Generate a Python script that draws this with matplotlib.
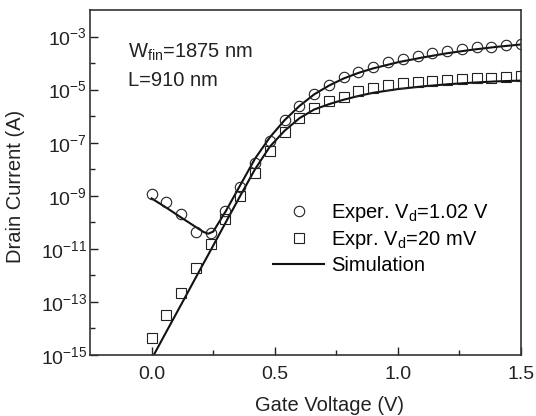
import numpy as np
import matplotlib
matplotlib.use("Agg")
import matplotlib.pyplot as plt
from matplotlib.ticker import FixedLocator, FuncFormatter, NullFormatter

plt.rcParams['font.family'] = ['Liberation Sans', 'DejaVu Sans']
plt.rcParams['mathtext.fontset'] = 'custom'
plt.rcParams['mathtext.rm'] = 'Liberation Sans'
plt.rcParams['mathtext.it'] = 'Liberation Sans'
plt.rcParams['mathtext.default'] = 'regular'

# measured points (gate voltage, log10 of drain current)
vg = [0.00, 0.06, 0.12, 0.18, 0.24, 0.30, 0.36, 0.42, 0.48, 0.54, 0.60, 0.66, 0.72,
      0.78, 0.84, 0.90, 0.96, 1.02, 1.08, 1.14, 1.20, 1.26, 1.32, 1.38, 1.44, 1.50]
log_id_hi = [-8.95, -9.23, -9.68, -10.35, -10.39, -9.58, -8.66, -7.76, -6.95, -6.16,
             -5.61, -5.15, -4.82, -4.53, -4.32, -4.13, -3.96, -3.84, -3.73, -3.62,
             -3.56, -3.47, -3.41, -3.38, -3.31, -3.27]
log_id_lo = [-14.36, -13.49, -12.65, -11.73, -10.83, -9.89, -9.00, -8.14, -7.30, -6.60,
             -6.07, -5.69, -5.44, -5.26, -5.07, -4.94, -4.84, -4.75, -4.71, -4.67,
             -4.63, -4.60, -4.58, -4.56, -4.54, -4.50]

# simulation curves
sim_v_hi = [0.0, 0.06, 0.12, 0.18, 0.21, 0.23, 0.25, 0.27, 0.30, 0.36, 0.42, 0.48, 0.54,
            0.60, 0.66, 0.72, 0.78, 0.84, 0.90, 1.0, 1.1, 1.2, 1.3, 1.4, 1.5]
sim_log_hi = [-9.1, -9.45, -9.82, -10.18, -10.36, -10.43, -10.35, -10.05, -9.6, -8.6,
              -7.6, -6.8, -6.15, -5.62, -5.18, -4.85, -4.58, -4.37, -4.2, -3.97, -3.79,
              -3.63, -3.5, -3.39, -3.3]
sim_v_lo = [0.007, 0.06, 0.12, 0.18, 0.24, 0.30, 0.36, 0.42, 0.48, 0.54, 0.60, 0.66,
            0.72, 0.78, 0.84, 0.90, 1.0, 1.1, 1.2, 1.3, 1.4, 1.5]
sim_log_lo = [-15.03, -14.12, -13.1, -12.07, -11.05, -10.02, -9.0, -8.0, -7.15, -6.55,
              -6.08, -5.75, -5.55, -5.38, -5.24, -5.12, -4.98, -4.88, -4.8, -4.74,
              -4.69, -4.66]

ink = '#222222'
fig = plt.figure(figsize=(5.36, 4.16), dpi=100)
ax = fig.add_axes([0.168, 0.1466, 0.804, 0.8294])

ax.plot(sim_v_hi, 10.0 ** np.array(sim_log_hi), color='#111111', lw=1.5)
ax.plot(sim_v_lo, 10.0 ** np.array(sim_log_lo), color='#111111', lw=1.5,
        label='Simulation')
ax.plot(vg, 10.0 ** np.array(log_id_hi), 'o', ms=7.5, mfc='none', mec=ink, mew=0.8,
        label='Exper. V$_d$=1.02 V')
ax.plot(vg, 10.0 ** np.array(log_id_lo), 's', ms=7, mfc='none', mec=ink, mew=0.8,
        label='Expr. V$_d$=20 mV')

ax.set_yscale('log')
ax.set_xlim(-0.25, 1.5)
ax.set_ylim(1e-15, 1e-2)

ax.yaxis.set_major_locator(FixedLocator([10.0 ** e for e in range(-15, -2, 2)]))
ax.yaxis.set_minor_locator(FixedLocator([10.0 ** e for e in range(-14, -2, 2)]))
ax.yaxis.set_major_formatter(FuncFormatter(
    lambda v, p: r'$10^{%d}$' % int(round(np.log10(v)))))
ax.yaxis.set_minor_formatter(NullFormatter())
ax.xaxis.set_major_locator(FixedLocator([0.0, 0.5, 1.0, 1.5]))
ax.xaxis.set_minor_locator(FixedLocator([0.25, 0.75, 1.25]))
ax.xaxis.set_major_formatter(FuncFormatter(lambda v, p: '%.1f' % v))

ax.tick_params(which='both', direction='in', colors=ink, labelsize=14)
ax.tick_params(which='major', length=6, width=1)
ax.tick_params(which='minor', length=3.5, width=1)
ax.tick_params(axis='x', pad=8)
ax.tick_params(axis='y', pad=2)
for s in ax.spines.values():
    s.set_color('#333333')
    s.set_linewidth(1.2)

ax.set_xlabel('Gate Voltage (V)', fontsize=14.5, color=ink)
ax.xaxis.set_label_coords(0.555, -0.12)
ax.set_ylabel('Drain Current (A)', fontsize=14.5, color=ink)
ax.yaxis.set_label_coords(-0.15, 0.49)

ax.text(0.088, 0.878, 'W$_{fin}$=1875 nm', transform=ax.transAxes, fontsize=14.5,
        color=ink, va='center')
ax.text(0.088, 0.797, 'L=910 nm', transform=ax.transAxes, fontsize=14.5,
        color=ink, va='center')

h, l = ax.get_legend_handles_labels()
ax.legend([h[1], h[2], h[0]], [l[1], l[2], l[0]], frameon=False, fontsize=14.5,
          loc='center left', bbox_to_anchor=(0.407, 0.337), handlelength=2.5,
          handletextpad=0.35, labelspacing=0.25, borderaxespad=0)

fig.savefig('out.png', dpi=100)
